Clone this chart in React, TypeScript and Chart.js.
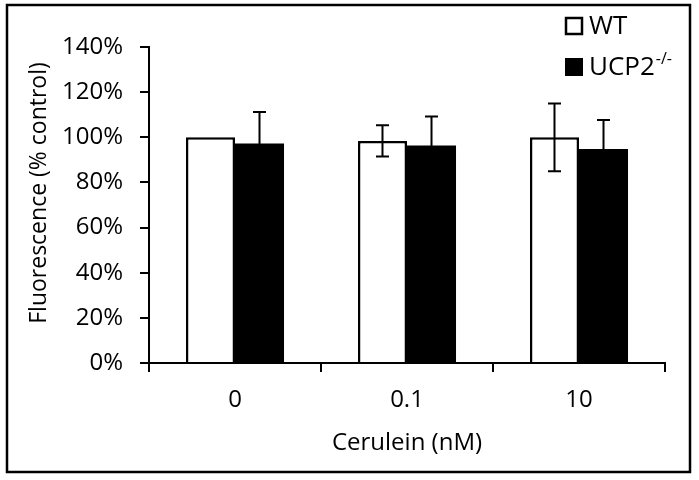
import React, { useEffect, useRef } from "react";
import { Chart, registerables } from "chart.js";

Chart.register(...registerables);

const categories = ["0", "0.1", "10"];
const seriesNames = ["WT", "UCP2"];
const wtValues = [100, 98.4, 100];
const wtErrors = [0, 6.9, 15];
const koValues = [97.2, 96.4, 94.8];
const koErrors = [14, 12.8, 12.9];
const yMin = 0;
const yMax = 140;
const yStep = 20;
const xTitle = "Cerulein (nM)";
const yTitle = "Fluorescence (% control)";

const FONT = "'Open Sans', sans-serif";
const errorsByDataset = [wtErrors, koErrors];

const errorBarPlugin = {
  id: "errorBars",
  afterDatasetsDraw(chart: any) {
    const ctx = chart.ctx;
    const yScale = chart.scales.y;
    chart.data.datasets.forEach((ds: any, i: number) => {
      const meta = chart.getDatasetMeta(i);
      const errs = errorsByDataset[i];
      meta.data.forEach((bar: any, j: number) => {
        const e = errs[j];
        if (!e) return;
        const v = ds.data[j];
        const yt = yScale.getPixelForValue(v + e);
        const yb = yScale.getPixelForValue(v - e);
        const x = bar.x;
        ctx.save();
        ctx.strokeStyle = "#000";
        ctx.lineWidth = 2;
        ctx.beginPath();
        ctx.moveTo(x, yt);
        ctx.lineTo(x, yb);
        ctx.moveTo(x - 6.5, yt);
        ctx.lineTo(x + 6.5, yt);
        ctx.moveTo(x - 6.5, yb);
        ctx.lineTo(x + 6.5, yb);
        ctx.stroke();
        ctx.restore();
      });
    });
  },
};

const framePlugin = {
  id: "frameAndLegend",
  afterDraw(chart: any) {
    const ctx = chart.ctx;
    ctx.save();
    ctx.strokeStyle = "#000";
    ctx.lineWidth = 2.5;
    ctx.strokeRect(7, 5, 683, 467);

    // y-axis title
    ctx.save();
    ctx.translate(39, 193);
    ctx.rotate(-Math.PI / 2);
    ctx.fillStyle = "#000";
    ctx.textAlign = "center";
    ctx.textBaseline = "middle";
    ctx.font = `23px ${FONT}`;
    ctx.fillText(yTitle, 0, 0);
    ctx.restore();

    // legend
    ctx.lineWidth = 2.5;
    ctx.fillStyle = "#fff";
    ctx.fillRect(566, 18, 16, 16);
    ctx.strokeRect(566, 18, 16, 16);
    ctx.fillStyle = "#000";
    ctx.fillRect(565, 58, 18, 18);

    ctx.fillStyle = "#000";
    ctx.textBaseline = "middle";
    ctx.textAlign = "left";
    ctx.font = `26px ${FONT}`;
    ctx.fillText(seriesNames[0], 589, 27);
    ctx.fillText(seriesNames[1], 589, 68);
    const w = ctx.measureText(seriesNames[1]).width;
    ctx.font = `16px ${FONT}`;
    ctx.fillText("-/-", 589 + w + 1, 59);
    ctx.restore();
  },
};

export default function App() {
  const canvasRef = useRef<HTMLCanvasElement | null>(null);

  useEffect(() => {
    const canvas = canvasRef.current;
    if (!canvas) return;
    const chart = new Chart(canvas, {
      type: "bar",
      data: {
        labels: categories,
        datasets: [
          {
            label: seriesNames[0],
            data: wtValues,
            backgroundColor: "#ffffff",
            borderColor: "#000000",
            borderWidth: 2.5,
            categoryPercentage: 0.57,
            barPercentage: 1,
          },
          {
            label: seriesNames[1],
            data: koValues,
            backgroundColor: "#000000",
            borderColor: "#000000",
            borderWidth: 0,
            categoryPercentage: 0.57,
            barPercentage: 1,
          },
        ],
      },
      options: {
        animation: false,
        responsive: false,
        maintainAspectRatio: false,
        layout: { padding: { top: 47, right: 34, left: 0, bottom: 0 } },
        plugins: {
          legend: { display: false },
          tooltip: { enabled: false },
        },
        scales: {
          x: {
            ticks: { color: "#000", font: { family: FONT, size: 24 }, padding: 14 },
            grid: {
              display: true,
              drawOnChartArea: false,
              offset: true,
              tickLength: 9,
              color: "#000",
              lineWidth: 2,
            },
            border: { display: true, color: "#000", width: 2 },
            title: {
              display: true,
              text: xTitle,
              color: "#000",
              font: { family: FONT, size: 24 },
              padding: { bottom: 22, top: 0 },
            },
            afterFit: (s: any) => {
              s.height = 480 - 363;
            },
          },
          y: {
            min: yMin,
            max: yMax,
            ticks: {
              stepSize: yStep,
              callback: (v: any) => `${v}%`,
              color: "#000",
              font: { family: FONT, size: 24 },
              padding: 17,
            },
            grid: {
              display: true,
              drawOnChartArea: false,
              drawTicks: true,
              tickLength: 9,
              color: "#000",
              lineWidth: 2,
            },
            border: { display: true, color: "#000", width: 2 },
            title: { display: false },
            afterFit: (s: any) => {
              s.width = 149;
            },
          },
        },
      },
      plugins: [errorBarPlugin, framePlugin],
    });
    return () => chart.destroy();
  }, []);

  return (
    <div style={{ position: "absolute", left: 0, top: 0, width: 699, height: 480, background: "#fff" }}>
      <canvas ref={canvasRef} width={699} height={480} style={{ width: 699, height: 480 }} />
    </div>
  );
}
